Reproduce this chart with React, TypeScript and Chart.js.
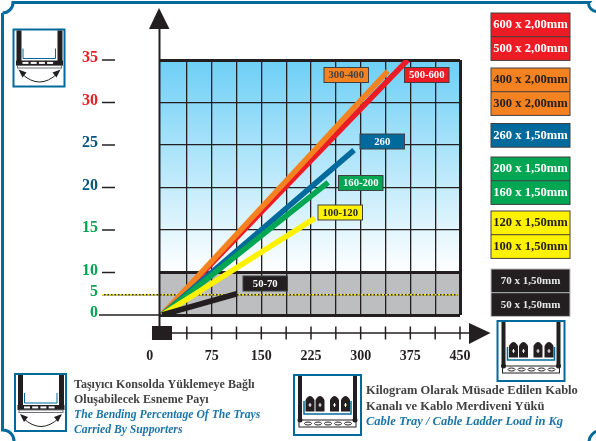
import React, { useEffect, useRef } from "react";
import { Chart, LinearScale, registerables } from "chart.js";

const series500600 = [{ x: 0, y: 0 }, { x: 371, y: 35 }];
const series300400 = [{ x: 0, y: 0 }, { x: 341, y: 33.7 }];
const series260 = [{ x: 0, y: 0 }, { x: 290, y: 24.4 }];
const series160200 = [{ x: 0, y: 0 }, { x: 251, y: 20.6 }];
const series100120 = [{ x: 0, y: 0 }, { x: 231, y: 16.4 }];
const series5070 = [{ x: 0, y: 0 }, { x: 113, y: 5 }];

const xTicks = [0, 37.5, 75, 112.5, 150, 187.5, 225, 262.5, 300, 337.5, 375, 412.5, 450];
const xLabelled = [0, 75, 150, 225, 300, 375, 450];
const yTicks = [0, 5, 10, 15, 20, 25, 30, 35];

const RED = "#ed1c24", ORANGE = "#f58220", BLUE = "#006a9c", GREEN = "#00a651", YELLOW = "#fff200", BLACK = "#231f20";
const SERIF = '"Liberation Serif"';

const legendGroups = [
  { color: RED, text: "#ffffff", size: 12.6, top: 13, rows: ["600 x 2,00mm", "500 x 2,00mm"] },
  { color: ORANGE, text: BLACK, size: 12.6, top: 68, rows: ["400 x 2,00mm", "300 x 2,00mm"] },
  { color: BLUE, text: "#ffffff", size: 12.6, top: 123.5, rows: ["260 x 1,50mm"] },
  { color: GREEN, text: "#ffffff", size: 12.6, top: 157, rows: ["200 x 1,50mm", "160 x 1,50mm"] },
  { color: YELLOW, text: BLACK, size: 12.6, top: 211, rows: ["120 x 1,50mm", "100 x 1,50mm"] },
  { color: BLACK, text: "#e6e7e8", size: 11, top: 269, rows: ["70 x 1,50mm", "50 x 1,50mm"] },
];
const seriesTags = [
  { text: "300-400", color: ORANGE, ink: "#414042", x: 324, y: 67.5 },
  { text: "500-600", color: RED, ink: "#ffffff", x: 404.5, y: 67.5 },
  { text: "260", color: BLUE, ink: "#ffffff", x: 360, y: 134 },
  { text: "160-200", color: GREEN, ink: "#ffffff", x: 338.5, y: 175.5 },
  { text: "100-120", color: YELLOW, ink: BLACK, x: 318, y: 205 },
  { text: "50-70", color: BLACK, ink: "#ffffff", x: 243, y: 276 },
];
const noteLeft = [
  "Taşıyıcı Konsolda Yüklemeye Bağlı",
  "Oluşabilecek Esneme Payı",
  "The Bending Percentage Of The Trays",
  "Carried By Supporters",
];
const noteRight = [
  "Kilogram Olarak Müsade Edilen Kablo",
  "Kanalı ve Kablo Merdiveni Yükü",
  "Cable Tray / Cable Ladder Load in Kg",
];

// The printed axis gives 0-10 the same height as each 5-step above it.
class BrokenScale extends LinearScale {
  static id = "broken";
  static defaults = {};
  getPixelForValue(v: number) {
    const step = v <= 10 ? v / 10 : 1 + (v - 10) / 5;
    return this.getPixelForDecimal(step / 6);
  }
}
Chart.register(...registerables, BrokenScale);

function bendIcon(c: CanvasRenderingContext2D, x: number, y: number, s: number) {
  const X = (v: number) => x + v * s, Y = (v: number) => y + v * s;
  c.save();
  c.fillStyle = "#fff"; c.strokeStyle = BLUE; c.lineWidth = 2;
  c.fillRect(X(0), Y(0), 51 * s, 57 * s); c.strokeRect(X(0), Y(0), 51 * s, 57 * s);
  c.fillStyle = BLACK;
  c.fillRect(X(3), Y(1), 5 * s, 35 * s); c.fillRect(X(44), Y(1), 5 * s, 35 * s);
  c.strokeStyle = BLUE; c.lineWidth = 1;
  c.beginPath(); c.moveTo(X(9.5), Y(19)); c.lineTo(X(9.5), Y(29)); c.lineTo(X(42), Y(29)); c.lineTo(X(42), Y(19)); c.stroke();
  c.fillStyle = BLACK; c.fillRect(X(2.5), Y(31), 47 * s, 5 * s);
  c.fillStyle = "#fff";
  for (let i = 0; i < 4; i++) c.fillRect(X(9 + i * 8.2), Y(32.4), 6 * s, 2 * s);
  c.strokeStyle = "#6d6e71"; c.lineWidth = 1; c.strokeRect(X(4), Y(36), 44 * s, 2.5 * s);
  c.strokeStyle = BLACK;
  c.beginPath(); c.moveTo(X(8), Y(44)); c.quadraticCurveTo(X(26), Y(61), X(44), Y(44)); c.stroke();
  c.fillStyle = BLACK;
  c.beginPath(); c.moveTo(X(5), Y(40)); c.lineTo(X(13), Y(43)); c.lineTo(X(9), Y(48)); c.closePath(); c.fill();
  c.beginPath(); c.moveTo(X(47), Y(40)); c.lineTo(X(39), Y(43)); c.lineTo(X(43), Y(48)); c.closePath(); c.fill();
  c.restore();
}

function loadIcon(c: CanvasRenderingContext2D, x: number, y: number) {
  const X = (v: number) => x + v, Y = (v: number) => y + v;
  c.save();
  c.fillStyle = "#fff"; c.fillRect(X(0), Y(0), 67, 60);
  c.strokeStyle = BLUE; c.lineWidth = 2; c.strokeRect(X(0), Y(0), 67, 60);
  c.fillStyle = BLACK;
  c.fillRect(X(4), Y(1), 4, 45); c.fillRect(X(59), Y(1), 4, 45);
  c.strokeStyle = BLUE; c.lineWidth = 1.5;
  c.beginPath(); c.moveTo(X(10), Y(26)); c.lineTo(X(10), Y(39)); c.lineTo(X(57), Y(39)); c.lineTo(X(57), Y(26)); c.stroke();
  [16, 26, 40.5, 51.5].forEach((v) => {
    c.fillStyle = BLACK;
    c.beginPath(); c.moveTo(X(v - 4.5), Y(36.5)); c.lineTo(X(v - 4.5), Y(25)); c.quadraticCurveTo(X(v), Y(17), X(v + 4.5), Y(25)); c.lineTo(X(v + 4.5), Y(36.5)); c.closePath(); c.fill();
    c.fillStyle = "#fff"; c.fillRect(X(v - 1.5), Y(29.5), 3, 1); c.fillRect(X(v - 0.5), Y(28), 1, 4);
  });
  c.strokeStyle = BLACK; c.lineWidth = 1; c.fillStyle = "#fff";
  c.fillRect(X(5), Y(45), 57, 7); c.strokeRect(X(5), Y(45), 57, 7);
  for (let i = 0; i < 5; i++) { c.beginPath(); c.ellipse(X(14 + i * 10), Y(48.5), 3.5, 1.5, 0, 0, 7); c.stroke(); }
  c.fillStyle = BLACK;
  c.beginPath(); c.arc(X(6), Y(45), 2.5, 0, 7); c.arc(X(61), Y(45), 2.5, 0, 7); c.fill();
  c.restore();
}

function border(c: CanvasRenderingContext2D) {
  c.save();
  c.strokeStyle = BLUE; c.lineWidth = 3;
  c.beginPath();
  c.moveTo(2.5, 13);
  c.arc(2.5, 2.5, 10.5, Math.PI / 2, 0, true);
  c.lineTo(589, 2.5);
  c.arc(597, 3, 8.5, Math.PI, Math.PI / 2, true);
  c.moveTo(2.5, 13);
  c.lineTo(2.5, 430);
  c.arc(3, 441, 11, -Math.PI / 2, 0);
  c.moveTo(600, 431);
  c.arc(600, 442, 11, -Math.PI / 2, Math.PI, true);
  c.stroke();
  c.restore();
}

const PLOT_TOP = 60;
const decorations = {
  id: "decorations",
  afterLayout(chart: any) {
    const y = chart.scales.y, area = chart.chartArea;
    y.top = PLOT_TOP; y.height = y.bottom - PLOT_TOP;
    area.top = PLOT_TOP; area.height = area.bottom - PLOT_TOP;
    y.configure();
  },
  beforeDraw(chart: any) {
    const c: CanvasRenderingContext2D = chart.ctx;
    const { left, right, top } = chart.chartArea;
    const y = chart.scales.y, bottom = y.getPixelForValue(0), ten = y.getPixelForValue(10);
    const g = c.createLinearGradient(0, top, 0, ten);
    g.addColorStop(0, "#6dcff6"); g.addColorStop(1, "#ffffff");
    c.fillStyle = g; c.fillRect(left, top, right - left, ten - top);
    c.fillStyle = "#bcbec0"; c.fillRect(left, ten, right - left, bottom - ten);
  },
  beforeDatasetsDraw(chart: any) {
    const c: CanvasRenderingContext2D = chart.ctx;
    const y = chart.scales.y, five = y.getPixelForValue(5) + 1;
    c.save();
    c.lineWidth = 1.5;
    c.strokeStyle = BLACK;
    c.beginPath(); c.moveTo(102, five); c.lineTo(458, five); c.stroke();
    c.strokeStyle = YELLOW; c.setLineDash([2, 1.5]);
    c.beginPath(); c.moveTo(102, five); c.lineTo(458, five); c.stroke();
    c.restore();
  },
  afterDraw(chart: any) {
    const c: CanvasRenderingContext2D = chart.ctx;
    const xs = chart.scales.x, ys = chart.scales.y;
    const left = chart.chartArea.left;
    c.save();
    border(c);
    c.fillStyle = BLACK; c.strokeStyle = BLACK;
    yTicks.forEach((v) => {
      if (v === 5) return;
      const p = ys.getPixelForValue(v);
      c.lineWidth = 1.5;
      c.beginPath(); c.moveTo(v === 0 ? 99 : 102, p); c.lineTo(v === 0 ? left : 115, p); c.stroke();
    });
    c.lineWidth = 2;
    c.beginPath(); c.moveTo(159.5, 25); c.lineTo(159.5, 330); c.stroke();
    c.beginPath(); c.moveTo(159, 8); c.lineTo(169.5, 29); c.lineTo(149, 29); c.closePath(); c.fill();
    const railY = 333;
    c.fillRect(152, 326, 20, 14);
    c.lineWidth = 1.5;
    c.beginPath(); c.moveTo(165, railY); c.lineTo(472, railY); c.stroke();
    xTicks.forEach((v) => {
      if (v === 0) return;
      const p = xs.getPixelForValue(v);
      c.beginPath(); c.moveTo(p, railY - 6.5); c.lineTo(p, railY + 6.5); c.stroke();
    });
    c.beginPath(); c.moveTo(469, 323); c.lineTo(490.5, 333); c.lineTo(469, 344); c.closePath(); c.fill();
    c.textAlign = "center"; c.textBaseline = "middle";
    seriesTags.forEach((t) => {
      c.fillStyle = t.color; c.strokeStyle = "#414042"; c.lineWidth = 1;
      c.fillRect(t.x, t.y, 44.5, 15); c.strokeRect(t.x, t.y, 44.5, 15);
      c.fillStyle = t.ink; c.font = `bold 10.7px ${SERIF}`;
      c.fillText(t.text, t.x + 22.25, t.y + 8);
    });
    legendGroups.forEach((g) => {
      const h = 23.7 * g.rows.length;
      c.fillStyle = g.color; c.fillRect(491, g.top, 79, h);
      c.strokeStyle = g.color === BLACK ? "#bcbec0" : "#414042"; c.lineWidth = 1;
      c.strokeRect(491, g.top, 79, h);
      g.rows.forEach((r, i) => {
        if (i) { c.beginPath(); c.moveTo(491, g.top + 23.7 * i); c.lineTo(570, g.top + 23.7 * i); c.stroke(); }
        c.fillStyle = g.text; c.font = `bold ${g.size}px ${SERIF}`;
        c.fillText(r, 530.5, g.top + 23.7 * i + 12);
      });
    });
    bendIcon(c, 13.5, 29.5, 1);
    bendIcon(c, 15, 374, 1);
    loadIcon(c, 497.5, 321);
    loadIcon(c, 294, 375);
    c.textAlign = "left"; c.textBaseline = "alphabetic";
    noteLeft.forEach((t, i) => {
      c.fillStyle = i < 2 ? "#414042" : "#1c75a8";
      c.font = i < 2 ? `bold 12px ${SERIF}` : `italic bold 11.7px ${SERIF}`;
      c.fillText(t, 74, 388 + i * 15);
    });
    noteRight.forEach((t, i) => {
      c.fillStyle = i < 2 ? "#414042" : "#1c75a8";
      c.font = `${i < 2 ? "bold" : "italic bold"} 12.5px ${SERIF}`;
      c.fillText(t, 366, 394 + i * 15.5);
    });
    c.restore();
  },
};

const yLabelColor = (v: number) => (v >= 30 ? RED : v >= 20 ? "#00567f" : GREEN);
const line = (label: string, data: any[], color: string, order: number, width = 5.5) => ({
  label, data, borderColor: color, backgroundColor: color, borderWidth: width, pointRadius: 0, order,
});

export default function App() {
  const ref = useRef<HTMLCanvasElement>(null);
  useEffect(() => {
    const chart = new Chart(ref.current!, {
      type: "line",
      data: {
        datasets: [
          line("500-600", series500600, RED, 6),
          line("300-400", series300400, ORANGE, 5),
          line("260", series260, BLUE, 4),
          line("160-200", series160200, GREEN, 3),
          line("100-120", series100120, YELLOW, 2),
          line("50-70", series5070, BLACK, 1),
        ],
      },
      options: {
        responsive: false,
        animation: false,
        events: [],
        parsing: false,
        layout: { padding: { top: 60, right: 136, left: 0, bottom: 0 } },
        plugins: { legend: { display: false }, tooltip: { enabled: false } },
        scales: {
          x: {
            type: "linear",
            min: -3,
            max: 450,
            afterBuildTicks: (s: any) => { s.ticks = xTicks.map((value) => ({ value })); },
            afterFit: (s: any) => { s.height = 126; },
            border: { display: false },
            grid: {
              drawTicks: false,
              color: (ctx: any) => (ctx.tick?.value === 0 ? "transparent" : BLACK),
              lineWidth: (ctx: any) => (ctx.tick?.value === 450 ? 3 : 1.3),
            },
            ticks: {
              autoSkip: false,
              maxRotation: 0,
              padding: 33,
              color: BLACK,
              font: { family: "Liberation Serif", weight: "bold", size: 14 },
              callback: (v: any) => (v === 0 ? "0       " : xLabelled.includes(v) ? String(v) : ""),
            },
          },
          y: {
            type: "broken",
            min: 0,
            max: 35,
            afterBuildTicks: (s: any) => { s.ticks = yTicks.map((value) => ({ value })); },
            afterFit: (s: any) => { s.width = 160; },
            border: { display: false },
            grid: {
              drawTicks: false,
              color: (ctx: any) => (ctx.tick?.value === 5 ? "transparent" : BLACK),
              lineWidth: (ctx: any) => ([0, 10, 35].includes(ctx.tick?.value) ? 3 : 1.3),
            },
            ticks: {
              padding: 62,
              labelOffset: -2,
              color: (ctx: any) => yLabelColor(ctx.tick?.value),
              font: { family: "Liberation Serif", weight: "bold", size: 16 },
            },
          },
        },
      } as any,
      plugins: [decorations],
    });
    return () => chart.destroy();
  }, []);
  return (
    <div style={{ position: "absolute", left: 0, top: 0, width: 596, height: 441, background: "#fff" }}>
      <canvas ref={ref} width={596} height={441} style={{ display: "block" }} />
    </div>
  );
}
